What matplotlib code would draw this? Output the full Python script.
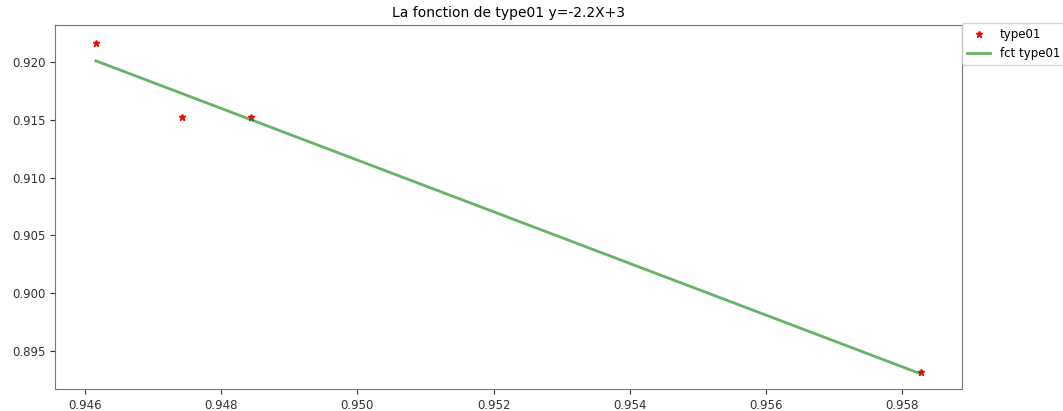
import numpy as np
from matplotlib import pyplot as plt

font_size = 8.5

# measured points for type01
x_values = [0.94616, 0.94743, 0.94844, 0.95828]
y_values = [0.92164, 0.91524, 0.91524, 0.89318]

# fitted line evaluated at the same x positions
fct_values = [0.92010, 0.91726, 0.91500, 0.89300]

title = 'La fonction de type01 y=-2.2X+3'


def plot_type(x, y, y_fct, title, file_path):
    fig = plt.figure(figsize=(10.63, 4.11), dpi=100)
    ax = fig.add_axes([55 / 1063, 22 / 411, 907 / 1063, 364 / 411])
    ax.plot(x, y, '*', color='red', markersize=5, label='type01')
    ax.plot(x, y_fct, color='green', alpha=0.6, linewidth=2, label='fct type01')
    ax.set_xlim(0.94556, 0.95888)
    ax.set_ylim(0.8917, 0.9232)
    ax.set_xticks(np.arange(0.946, 0.9581, 0.002))
    ax.set_yticks(np.arange(0.895, 0.9201, 0.005))
    ax.tick_params(labelsize=font_size, colors='#333333')
    for spine in ax.spines.values():
        spine.set_color('#777777')
    ax.set_title(title, fontsize=10, pad=6)
    ax.legend(loc='upper left', bbox_to_anchor=(1, 1.005), fontsize=font_size,
              frameon=True, borderaxespad=0)
    plt.savefig(file_path, dpi=100)
    plt.close()


plot_type(x_values, y_values, fct_values, title, 'out.png')
